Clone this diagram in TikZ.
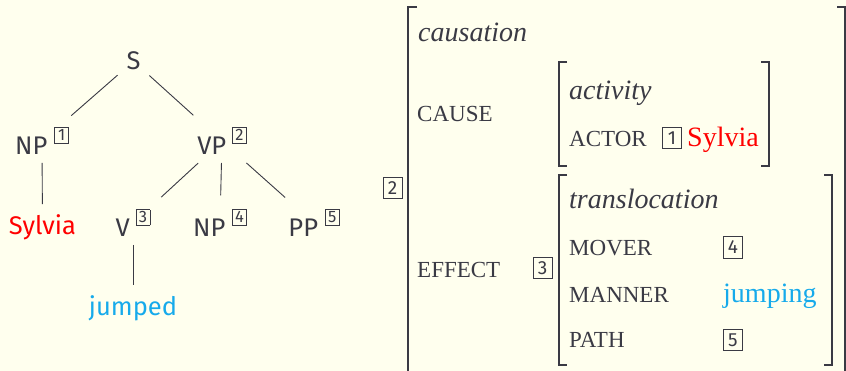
\documentclass[tikz,border=0pt]{standalone}
\usepackage{fontspec}
\setmainfont{Liberation Serif}
\newfontfamily\firafont{Fira Sans}
\definecolor{paper}{RGB}{255,255,238}
\definecolor{ink}{RGB}{58,58,68}
\definecolor{sylviared}{RGB}{255,0,0}
\definecolor{jumpblue}{RGB}{22,170,235}

% small boxed index raised after a category label
\newcommand\treetag[1]{\raisebox{14pt}{\fboxsep=1.8pt\fboxrule=0.7pt\fbox{\fontsize{16.5}{16.5}\selectfont\makebox[9.5pt]{#1}}}}

\tikzset{
  treelabel/.style={font=\firafont\fontsize{25.5}{30}\selectfont, text=ink,
    inner sep=0pt, outer sep=0pt, anchor=base},
  treeedge/.style={draw=ink, line width=0.9pt, shorten <=12pt, shorten >=18pt},
  lexedge/.style={draw=ink, line width=0.9pt, shorten <=8pt, shorten >=11pt},
  feat/.style={font=\fontsize{23}{26}\selectfont, text=ink, inner sep=0pt, anchor=base west},
  avmtype/.style={font=\fontsize{28}{32}\selectfont\itshape, text=ink, inner sep=0pt, anchor=base west},
  avmval/.style={font=\fontsize{28}{32}\selectfont, inner sep=0pt, anchor=base west},
  avmtag/.style={draw=ink, line width=0.7pt, font=\firafont\fontsize{19}{19}\selectfont,
    text=ink, inner sep=0pt, minimum width=19pt, minimum height=21.5pt},
  brk/.style={draw=ink, line width=2.2pt, line join=miter},
}

\begin{document}
\begin{tikzpicture}[x=1pt,y=-1pt]
  \useasboundingbox (0,0) rectangle (846,371);
  \fill[paper] (0,0) rectangle (846,371);

  % ---- phrase structure tree ----
  \node[treelabel] (s)      at (133.5,70)  {S};
  \node[treelabel] (np1)    at (42,155)    {NP\hspace{7pt}\treetag{1}};
  \node[treelabel] (vp2)    at (222,155)   {VP\hspace{6pt}\treetag{2}};
  \node[treelabel] (v3)     at (133,237)   {V\hspace{6pt}\treetag{3}};
  \node[treelabel] (np4)    at (220,237)   {NP\hspace{7pt}\treetag{4}};
  \node[treelabel] (pp5)    at (314,237)   {PP\hspace{7pt}\treetag{5}};
  \node[treelabel, text=sylviared] (sylvia) at (42.5,235) {Sylvia};
  \node[treelabel, text=jumpblue]  (jumped) at (133,316)  {jumped};

  \draw[treeedge] (s) -- (np1);
  \draw[treeedge] (s) -- (vp2);
  \draw[treeedge] (vp2) -- (v3);
  \draw[treeedge, shorten <=8pt, shorten >=14pt] (vp2) -- (np4);
  \draw[treeedge] (vp2) -- (pp5);
  \draw[lexedge] (np1) -- (sylvia);
  \draw[lexedge] (v3) -- (jumped);

  % ---- attribute-value matrix ----
  % outer matrix
  \node[avmtag] (tag2) at (392.5,188) {2};
  \draw[brk] (417,7) -- (408,7) -- (408,380);
  \draw[brk] (837,7) -- (845,7) -- (845,380);
  \node[avmtype] (causation) at (418,42)  {causation};
  \node[feat]    (cause)     at (417,122) {CAUSE};
  \node[feat]    (effect)    at (417,278) {EFFECT};

  % CAUSE value
  \draw[brk] (567,62) -- (559,62) -- (559,166) -- (567,166);
  \draw[brk] (761,62) -- (769,62) -- (769,166) -- (761,166);
  \node[avmtype] (activity) at (569,100) {activity};
  \node[feat]    (actor)    at (569,147) {ACTOR};
  \node[avmtag]  (tag1)     at (672,138) {1};
  \node[avmval, text=sylviared] (sylviaval) at (687,147) {Sylvia};

  % EFFECT value
  \node[avmtag] (tag3) at (542.5,268) {3};
  \draw[brk] (567,175) -- (559,175) -- (559,365) -- (567,365);
  \draw[brk] (824,175) -- (832,175) -- (832,365) -- (824,365);
  \node[avmtype] (transloc) at (569,209) {translocation};
  \node[feat]    (mover)    at (569,256) {MOVER};
  \node[avmtag]  (tag4)     at (733,247.5) {4};
  \node[feat]    (manner)   at (569,302) {MANNER};
  \node[avmval, text=jumpblue] (jumping) at (723,302) {jumping};
  \node[feat]    (path)     at (569,348) {PATH};
  \node[avmtag]  (tag5)     at (733,340) {5};
\end{tikzpicture}
\end{document}
